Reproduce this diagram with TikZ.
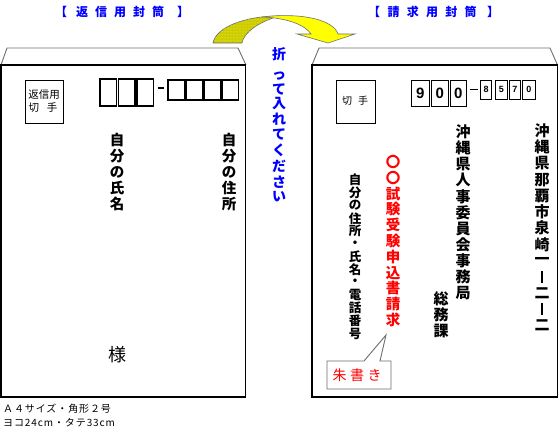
\documentclass[tikz,border=0pt]{standalone}
\usepackage{fontspec}
\setmainfont{Liberation Sans}
\newfontfamily\jp{Noto Sans CJK JP}
\newfontfamily\jpw{Noto Sans CJK JP}[LetterSpace=9]
\usetikzlibrary{patterns}
\definecolor{hblue}{RGB}{0,0,255}
\definecolor{hred}{RGB}{255,0,0}
\definecolor{tailc}{RGB}{204,204,0}
\definecolor{headc}{RGB}{255,255,0}
\definecolor{flapc}{RGB}{110,110,110}
% vertical column: name, style, x, first y, step, list of characters
\newcommand\vcol[6]{%
  \foreach \c [count=\i from 0] in {#6} {\node[#2] (#1-\i) at (#3, {#4+\i*#5}) {\c};}}
% horizontal spaced row: name, style, first x, y, step, list
\newcommand\hrow[6]{%
  \foreach \c [count=\i from 0] in {#6} {\node[#2] (#1-\i) at ({#3+\i*#5}, #4) {\c};}}
\newcommand\vbar{\rule{2.4pt}{12pt}}
\tikzset{
  ch/.style={inner sep=0pt, anchor=center},
  colL/.style={ch, font=\jp\fontsize{14.5}{14.5}\selectfont\bfseries},
  colA/.style={ch, font=\jp\fontsize{15}{15}\selectfont\bfseries},
  colR/.style={ch, text=hred, font=\jp\fontsize{14.5}{14.5}\selectfont\bfseries},
  colS/.style={ch, font=\jp\fontsize{12.5}{12.5}\selectfont\bfseries},
  colB/.style={ch, text=hblue, font=\jp\fontsize{14}{14}\selectfont\bfseries},
  head/.style={ch, text=hblue, font=\jp\fontsize{12}{12}\selectfont\bfseries},
  body/.style={draw=black, line width=1.3pt},
  flap/.style={draw=flapc, line width=0.9pt},
  stampbox/.style={draw=black, line width=0.9pt},
  zipL/.style={draw=black, line width=1.3pt},
  zipR/.style={draw=black, line width=0.9pt},
  digitB/.style={ch, font=\fontsize{15}{15}\selectfont\bfseries},
  digitS/.style={ch, font=\fontsize{9}{9}\selectfont\bfseries},
  small/.style={inner sep=0pt, anchor=west, font=\jpw\fontsize{10}{10}\selectfont},
}
\begin{document}
\begin{tikzpicture}[x=1pt, y=-1pt]
\useasboundingbox (0,0) rectangle (559,431);
\fill[white] (0,0) rectangle (559,431);

% headers
\node[head] (hl0) at (61,12) {【};
\hrow{hl}{head}{82}{12}{19}{返,信,用,封,筒}
\node[head] (hl6) at (183,12) {】};
\node[head] (hr0) at (374,12) {【};
\hrow{hr}{head}{393.5}{12}{19.3}{請,求,用,封,筒}
\node[head] (hr6) at (493,12) {】};

% curved arrow (twisted ribbon)
\path[fill=tailc, draw=flapc, line width=0.6pt]
  (213,43) .. controls (216,27) and (245,16) .. (279,16)
  .. controls (259,22) and (244,32) .. (242,43) -- cycle;
\path[pattern=dots, pattern color=yellow!60!white]
  (213,43) .. controls (216,27) and (245,16) .. (279,16)
  .. controls (259,22) and (244,32) .. (242,43) -- cycle;
\path[fill=headc, draw=flapc, line width=0.6pt]
  (262,17) .. controls (305,12) and (334,21) .. (338,34)
  -- (355,34) -- (328,43) -- (297,34) -- (311,34)
  .. controls (305,25) and (288,18) .. (262,17) -- cycle;

% left envelope
\draw[flap] (1,65) -- (7,48) -- (238,48) -- (246,65);
\draw[body] (1,65) rectangle (245.5,397);
\draw[stampbox] (25,80) rectangle (63,123);
\node[ch, font=\jp\fontsize{10.5}{10.5}\selectfont] (sl1) at (44,95) {返信用};
\node[ch, font=\jp\fontsize{10.5}{10.5}\selectfont] (sl2) at (43,108) {切\kern8pt 手};
\foreach \x [count=\i] in {100,118.5,137}
  \draw[zipL] (\x,79) rectangle ++(16.5,27);
\draw[zipL] (157.5,88) -- (163.5,88);
\foreach \x [count=\i] in {168,186,204,222}
  \draw[zipL] (\x,80) rectangle ++(16.5,20);
\vcol{nm}{colL}{117}{140}{16}{自,分,の,氏,名}
\vcol{ad}{colL}{229}{140}{16}{自,分,の,住,所}
\node[ch, font=\jp\fontsize{18}{18}\selectfont] (sama) at (117,355) {様};

% folding instruction
\foreach \c/\y [count=\i] in {折/54,っ/76,て/90,入/104,れ/119,て/135,く/150,だ/166,さ/182,い/197}
  \node[colB] (f\i) at (279,\y) {\c};

% right envelope
\draw[flap] (312,65) -- (319,48) -- (550,48) -- (557.5,65);
\draw[body] (312,65) rectangle (557.5,397);
\draw[stampbox] (336,80) rectangle (375,123);
\node[ch, font=\jp\fontsize{10}{10}\selectfont] (sr) at (355,101) {切\kern6pt 手};
\draw[zipR] (411,80) rectangle (429.5,106);
\draw[zipR] (431.5,80) rectangle (448,106);
\draw[zipR] (450,80) rectangle (466.5,106);
\node[digitB] (z1) at (420.25,93) {9};
\node[digitB] (z2) at (439.75,93) {0};
\node[digitB] (z3) at (458.25,93) {0};
\draw[zipR] (469.5,89) -- (477.5,89);
\draw[zipR] (480.5,80) rectangle (491.5,99);
\draw[zipR] (495.5,80) rectangle (507,99);
\draw[zipR] (509,80) rectangle (520.5,99);
\draw[zipR] (522.5,80) rectangle (535,99);
\node[digitS] (z4) at (486,89) {8};
\node[digitS] (z5) at (501.25,89) {5};
\node[digitS] (z6) at (514.75,89) {7};
\node[digitS] (z7) at (528.75,89) {0};

\vcol{a}{colA}{542}{131}{16.2}{沖,縄,県,那,覇,市,泉,崎,一,\vbar,二,\vbar,二}
\vcol{b}{colA}{463}{132}{16.1}{沖,縄,県,人,事,委,員,会,事,務,局}
\vcol{c}{colA}{441}{299}{16}{総,務,課}
\vcol{r}{colR}{393}{162}{15.8}{〇,〇,試,験,受,験,申,込,書,請,求}
\vcol{s}{colS}{355}{180}{12.8}{自,分,の,住,所,・,氏,名,・,電,話,番,号}

% callout
\path[fill=white, draw=flapc, line width=0.9pt]
  (327,361) -- (364,361) -- (386,335) -- (380,361) -- (391,361)
  -- (391,389) -- (327,389) -- cycle;
\node[ch, text=hred, font=\jp\fontsize{14}{14}\selectfont] (shu) at (357,375) {朱\kern3.5pt 書\kern3.5pt き};

% size note
\node[small] (n1) at (3,409) {Ａ４サイズ・角形２号};
\node[small] (n2) at (3,423) {ヨコ24cm・タテ33cm};
\end{tikzpicture}
\end{document}
